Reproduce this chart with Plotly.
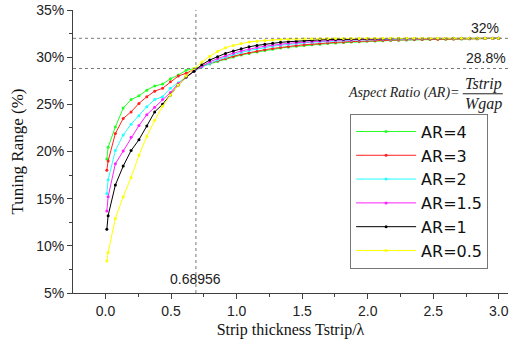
import plotly.graph_objects as go

# Strip thickness Tstrip/lambda (sample points)
x_vals = [0.01, 0.02, 0.075, 0.135, 0.195, 0.255, 0.315, 0.375, 0.435, 0.495,
          0.555, 0.615, 0.675, 0.735, 0.795, 0.855, 0.915, 0.975, 1.035, 1.095,
          1.155, 1.215, 1.275, 1.335, 1.395, 1.455, 1.515, 1.575, 1.635, 1.695,
          1.755, 1.815, 1.875, 1.935, 1.995, 2.055, 2.115, 2.175, 2.235, 2.295,
          2.355, 2.415, 2.475, 2.535, 2.595, 2.655, 2.715, 2.775, 2.835, 2.895,
          2.955, 3.0]

ar4 = [19.2, 20.45, 22.6, 24.6, 25.5, 25.9, 26.5, 26.95, 27.15, 27.7,
       28.1, 28.6, 28.8, 29.0, 29.28, 29.55, 29.8, 30.02, 30.22, 30.4,
       30.56, 30.71, 30.84, 30.96, 31.06, 31.15, 31.23, 31.31, 31.38, 31.44,
       31.5, 31.55, 31.6, 31.64, 31.68, 31.71, 31.74, 31.77, 31.8, 31.82,
       31.84, 31.86, 31.88, 31.89, 31.91, 31.92, 31.93, 31.95, 31.96, 31.97,
       31.98, 32.0]
ar3 = [18.0, 19.0, 21.9, 23.5, 24.2, 25.1, 25.8, 26.4, 26.7, 27.4,
       28.0, 28.3, 28.7, 29.05, 29.35, 29.62, 29.87, 30.1, 30.3, 30.48,
       30.64, 30.79, 30.92, 31.04, 31.14, 31.23, 31.31, 31.39, 31.46, 31.52,
       31.57, 31.62, 31.66, 31.7, 31.73, 31.76, 31.79, 31.81, 31.83, 31.85,
       31.87, 31.88, 31.9, 31.91, 31.92, 31.93, 31.94, 31.95, 31.96, 31.97,
       31.98, 32.0]
ar2 = [15.55, 17.0, 20.1, 21.75, 22.9, 23.8, 24.75, 25.5, 25.8, 26.7,
       27.3, 27.9, 28.5, 28.95, 29.35, 29.7, 30.0, 30.27, 30.5, 30.7,
       30.88, 31.03, 31.16, 31.27, 31.37, 31.45, 31.52, 31.58, 31.64, 31.69,
       31.73, 31.77, 31.8, 31.83, 31.85, 31.87, 31.89, 31.91, 31.92, 31.93,
       31.94, 31.95, 31.96, 31.97, 31.97, 31.98, 31.98, 31.99, 31.99, 31.99,
       32.0, 32.0]
ar15 = [13.7, 15.2, 18.7, 20.05, 21.5, 22.75, 23.9, 24.7, 25.5, 26.25,
        27.2, 27.9, 28.5, 29.05, 29.5, 29.85, 30.15, 30.42, 30.65, 30.85,
        31.02, 31.16, 31.28, 31.38, 31.47, 31.54, 31.6, 31.66, 31.71, 31.75,
        31.79, 31.82, 31.85, 31.87, 31.89, 31.91, 31.92, 31.93, 31.94, 31.95,
        31.96, 31.97, 31.97, 31.98, 31.98, 31.99, 31.99, 31.99, 32.0, 32.0,
        32.0, 32.0]
ar1 = [11.75, 13.2, 16.45, 18.45, 20.1, 21.25, 22.7, 24.2, 25.0, 26.0,
       27.05, 27.9, 28.5, 29.2, 29.7, 30.05, 30.4, 30.65, 30.9, 31.1,
       31.25, 31.38, 31.48, 31.57, 31.64, 31.7, 31.75, 31.79, 31.83, 31.86,
       31.88, 31.9, 31.92, 31.93, 31.94, 31.95, 31.96, 31.97, 31.97, 31.98,
       31.98, 31.98, 31.99, 31.99, 31.99, 32.0, 32.0, 32.0, 32.0, 32.0,
       32.0, 32.0]
ar05 = [8.4, 9.3, 12.9, 15.2, 17.25, 19.6, 21.6, 23.3, 24.8, 26.0,
        27.05, 28.0, 28.8, 29.5, 30.1, 30.6, 31.0, 31.25, 31.45, 31.6,
        31.7, 31.78, 31.84, 31.88, 31.91, 31.93, 31.95, 31.96, 31.97, 31.98,
        31.98, 31.99, 31.99, 31.99, 32.0, 32.0, 32.0, 32.0, 32.0, 32.0,
        32.0, 32.0, 32.0, 32.0, 32.0, 32.0, 32.0, 32.0, 32.0, 32.0,
        32.0, 32.0]

series_names = ["AR=4", "AR=3", "AR=2", "AR=1.5", "AR=1", "AR=0.5"]
series_vals = [ar4, ar3, ar2, ar15, ar1, ar05]
series_colors = ["#22ff22", "#ff2020", "#22ffff", "#ff22ff", "#000000", "#ffff00"]

ref_x = 0.68956
ref_y = [32.0, 28.8]
ref_y_labels = ["32%", "28.8%"]
ref_label_shift = [-7, 0]

y_ticks = [5, 10, 15, 20, 25, 30, 35]
y_tick_text = ["5%", "10%", "15%", "20%", "25%", "30%", "35%"]
x_ticks = [0.0, 0.5, 1.0, 1.5, 2.0, 2.5, 3.0]
x_tick_text = ["0.0", "0.5", "1.0", "1.5", "2.0", "2.5", "3.0"]

fig = go.Figure()
for name, vals, col in zip(series_names, series_vals, series_colors):
    fig.add_trace(go.Scatter(x=x_vals, y=vals, name=name, mode="lines+markers",
                             line=dict(color=col, width=1),
                             marker=dict(color=col, size=3)))

axis_col = "#404040"
fig.update_layout(
    width=509, height=342,
    margin=dict(l=73, r=1, t=10, b=49),
    paper_bgcolor="white", plot_bgcolor="white",
    font=dict(family="Liberation Sans, Arial", size=14, color="#222"),
    showlegend=True,
    legend=dict(x=0.637, y=0.634, xanchor="left", yanchor="top",
                bordercolor="#777", borderwidth=1, bgcolor="white",
                font=dict(family="DejaVu Sans", size=16, color="#111"),
                itemwidth=60, tracegroupgap=0),
    xaxis=dict(range=[-0.248, 3.07], tickvals=x_ticks, ticktext=x_tick_text,
               showline=True, linecolor=axis_col, linewidth=1,
               ticks="outside", ticklen=5, tickcolor=axis_col,
               minor=dict(dtick=0.25, tick0=0, ticks="outside", ticklen=3, tickcolor=axis_col),
               showgrid=False, zeroline=False,
               tickfont=dict(size=14, color="#222"),
               title=dict(text="Strip thickness Tstrip/λ",
                          font=dict(family="Liberation Serif, Times New Roman", size=16, color="#111"),
                          standoff=6)),
    yaxis=dict(range=[5, 35], tickvals=y_ticks, ticktext=y_tick_text,
               showline=True, linecolor=axis_col, linewidth=1,
               ticks="outside", ticklen=5, tickcolor=axis_col,
               minor=dict(dtick=2.5, tick0=0, ticks="outside", ticklen=3, tickcolor=axis_col),
               showgrid=False, zeroline=False,
               tickfont=dict(size=14, color="#222"),
               title=dict(text="Tuning Range (%)",
                          font=dict(family="Liberation Serif, Times New Roman", size=17, color="#111"),
                          standoff=8)),
)

dot = dict(color="#777", width=1, dash="dot")
fig.add_shape(type="line", xref="x", yref="paper", x0=ref_x, x1=ref_x, y0=0, y1=1, line=dot)
for yv in ref_y:
    fig.add_shape(type="line", xref="paper", yref="y", x0=0, x1=1, y0=yv, y1=yv, line=dot)

fig.add_annotation(x=ref_x, y=5, xref="x", yref="y", text=f"{ref_x}", showarrow=False,
                   yanchor="bottom", yshift=4, font=dict(size=14, color="#222"))
for yv, lab, sh in zip(ref_y, ref_y_labels, ref_label_shift):
    fig.add_annotation(x=1, y=yv, xref="paper", yref="y", text=lab, showarrow=False,
                       xanchor="right", yanchor="bottom", xshift=sh, font=dict(size=14, color="#222"))

serif_i = "Liberation Serif, Times New Roman"
fig.add_annotation(x=0.895, y=0.705, xref="paper", yref="paper", text="<i>Aspect Ratio (AR)=</i>",
                   showarrow=False, xanchor="right", yanchor="middle",
                   font=dict(family=serif_i, size=14, color="#222"))
fig.add_annotation(x=0.943, y=0.738, xref="paper", yref="paper", text="<i>Tstrip</i>",
                   showarrow=False, xanchor="center", yanchor="middle",
                   font=dict(family=serif_i, size=16, color="#222"))
fig.add_annotation(x=0.943, y=0.667, xref="paper", yref="paper", text="<i>Wgap</i>",
                   showarrow=False, xanchor="center", yanchor="middle",
                   font=dict(family=serif_i, size=16, color="#222"))
fig.add_shape(type="line", xref="paper", yref="paper", x0=0.896, x1=0.988, y0=0.704, y1=0.704,
              line=dict(color="#222", width=1))

fig.write_html("out.html", config={"displayModeBar": False},
               post_script="document.body.style.margin='0';document.body.style.overflow='hidden';")
